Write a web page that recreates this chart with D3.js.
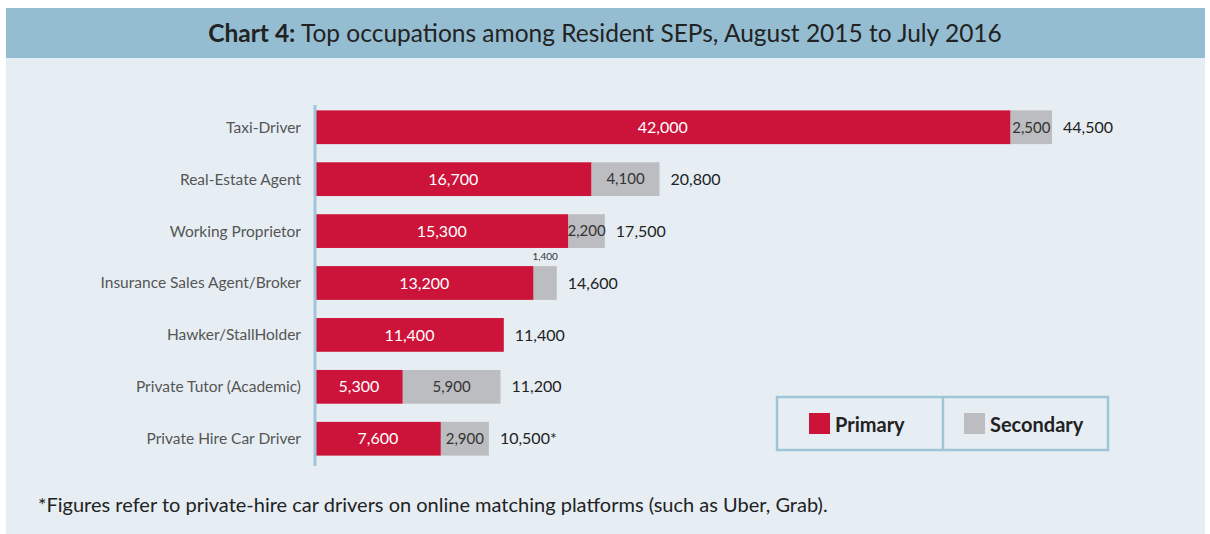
<!DOCTYPE html>
<html>
<head>
<meta charset="utf-8">
<script src="https://cdn.jsdelivr.net/npm/d3@7"></script>
<style>
  body { margin: 0; background: #fff; }
  svg { display: block; font-family: Lato, "Open Sans", sans-serif; }
</style>
</head>
<body>
<svg width="1210" height="534"></svg>
<script>
const categories = ['Taxi-Driver', 'Real-Estate Agent', 'Working Proprietor', 'Insurance Sales Agent/Broker',
  'Hawker/StallHolder', 'Private Tutor (Academic)', 'Private Hire Car Driver'];
const primary = [42000, 16700, 15300, 13200, 11400, 5300, 7600];
const secondary = [2500, 4100, 2200, 1400, 0, 5900, 2900];
const totals = [44500, 20800, 17500, 14600, 11400, 11200, 10500];
const totalSuffix = ['', '', '', '', '', '', '*'];

const svg = d3.select('svg');
const width = +svg.attr('width');
const height = +svg.attr('height');

// panel
svg.append('rect').attr('x', 6).attr('y', 8).attr('width', 1199).attr('height', 526).attr('fill', '#e6eef4');
svg.append('rect').attr('x', 6).attr('y', 8).attr('width', 1199).attr('height', 50).attr('fill', '#95bdd2');

const title = svg.append('text').attr('x', 605).attr('y', 42).attr('text-anchor', 'middle')
  .attr('font-size', 24.5).attr('fill', '#222');
title.append('tspan').attr('font-weight', 'bold').text('Chart 4:');
title.append('tspan').text(' Top occupations among Resident SEPs, August 2015 to July 2016');

const margin = {left: 315, top: 100};
const xScale = d3.scaleLinear().domain([0, 44500]).range([0, 737]);
const yScale = d3.scaleBand().domain(categories).range([0, 366]).paddingInner(0.35).paddingOuter(0.2);

const g = svg.append('g').attr('transform', `translate(${margin.left},${margin.top})`);

const rows = categories.map((c, i) => ({c, p: primary[i], s: secondary[i], t: totals[i], suf: totalSuffix[i]}));

g.selectAll('rect.p').data(rows).enter().append('rect')
  .attr('x', 0).attr('y', d => yScale(d.c))
  .attr('width', d => xScale(d.p)).attr('height', yScale.bandwidth())
  .attr('fill', '#cc1339');

g.selectAll('rect.s').data(rows.filter(d => d.s > 0)).enter().append('rect')
  .attr('x', d => xScale(d.p)).attr('y', d => yScale(d.c))
  .attr('width', d => xScale(d.s)).attr('height', yScale.bandwidth())
  .attr('fill', '#bcbdc0');

const mid = d => yScale(d.c) + yScale.bandwidth() / 2;

g.selectAll('text.p').data(rows).enter().append('text')
  .attr('x', d => xScale(d.p) / 2).attr('y', mid).attr('dy', '0.35em')
  .attr('text-anchor', 'middle').attr('font-size', 16).attr('fill', '#fff')
  .text(d => d3.format(',')(d.p));

g.selectAll('text.s').data(rows.filter(d => d.s > 0)).enter().append('text')
  .attr('x', d => xScale(d.p + d.s / 2))
  .attr('y', d => d.s < 2000 ? yScale(d.c) - 6 : mid(d))
  .attr('dy', d => d.s < 2000 ? 0 : '0.35em')
  .attr('text-anchor', 'middle').attr('font-size', d => d.s < 2000 ? 10 : 15).attr('fill', '#333')
  .text(d => d3.format(',')(d.s));

g.selectAll('text.t').data(rows).enter().append('text')
  .attr('x', d => xScale(d.t) + 11).attr('y', mid).attr('dy', '0.35em')
  .attr('font-size', 16).attr('fill', '#222')
  .text(d => d3.format(',')(d.t) + d.suf);

// category labels
g.selectAll('text.c').data(rows).enter().append('text')
  .attr('x', -14).attr('y', mid).attr('dy', '0.35em')
  .attr('text-anchor', 'end').attr('font-size', 15.5).attr('fill', '#555')
  .text(d => d.c);

g.append('line').attr('x1', 0).attr('x2', 0).attr('y1', 5).attr('y2', 366)
  .attr('stroke', '#9fc5d8').attr('stroke-width', 3);

// legend
const lg = svg.append('g').attr('transform', 'translate(777,397)');
lg.append('rect').attr('width', 331).attr('height', 53).attr('fill', 'none')
  .attr('stroke', '#9fc5d8').attr('stroke-width', 2.5);
lg.append('line').attr('x1', 166).attr('x2', 166).attr('y1', 0).attr('y2', 53)
  .attr('stroke', '#9fc5d8').attr('stroke-width', 2.5);
const legendItems = [{name: 'Primary', color: '#cc1339', x: 32}, {name: 'Secondary', color: '#bcbdc0', x: 187}];
legendItems.forEach(d => {
  lg.append('rect').attr('x', d.x).attr('y', 16).attr('width', 21).attr('height', 21).attr('fill', d.color);
  lg.append('text').attr('x', d.x + 26).attr('y', 28).attr('dy', '0.35em')
    .attr('font-size', 20).attr('font-weight', 'bold').attr('fill', '#222').text(d.name);
});

svg.append('text').attr('x', 38).attr('y', 512).attr('font-size', 20).attr('fill', '#222')
  .text('*Figures refer to private-hire car drivers on online matching platforms (such as Uber, Grab).');
</script>
</body>
</html>
